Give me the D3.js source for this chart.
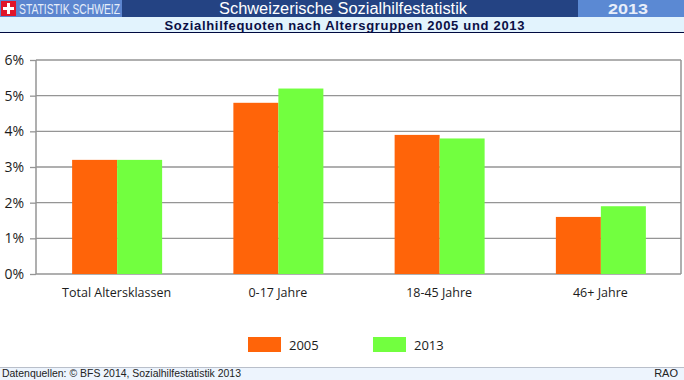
<!DOCTYPE html>
<html>
<head>
<meta charset="utf-8">
<script src="https://cdn.jsdelivr.net/npm/d3@7"></script>
<style>
  html, body { margin: 0; padding: 0; background: #fff; }
  svg { display: block; }
  .chart-text { font-family: "Open Sans", "Noto Sans", sans-serif; font-size: 12.5px; fill: #1c1c1c; }
  .head-text { font-family: "Liberation Sans", Arial, sans-serif; }
</style>
</head>
<body>
<div id="chart"></div>
<script>
var categories = ['Total Altersklassen', '0-17 Jahre', '18-45 Jahre', '46+ Jahre'];
var years = ['2005', '2013'];
var values2005 = [3.2, 4.8, 3.9, 1.6];
var values2013 = [3.2, 5.2, 3.8, 1.9];
var yTicks = [0, 1, 2, 3, 4, 5, 6];
var colors = ['#ff6409', '#72ff3f'];

var width = 684, height = 380;
var gridColor = '#959595';

var svg = d3.select('#chart').append('svg')
    .attr('width', width)
    .attr('height', height);

// header bands
svg.append('rect').attr('x', 0).attr('y', 0).attr('width', width).attr('height', 17).style('fill', '#244383');
svg.append('rect').attr('x', 0).attr('y', 0).attr('width', 122).attr('height', 17).style('fill', '#5b85cf');
svg.append('rect').attr('x', 578).attr('y', 0).attr('width', 106).attr('height', 17).style('fill', '#5b89d3');
svg.append('rect').attr('x', 0).attr('y', 17).attr('width', width).attr('height', 15).style('fill', '#e2f3fd');
svg.append('rect').attr('x', 0).attr('y', 32).attr('width', width).attr('height', 1).style('fill', '#000a40');

// swiss flag
svg.append('rect').attr('x', 1).attr('y', 1).attr('width', 15).attr('height', 15).style('fill', '#e0142a');
svg.append('rect').attr('x', 7).attr('y', 3).attr('width', 3).attr('height', 11).style('fill', '#fff');
svg.append('rect').attr('x', 3).attr('y', 7).attr('width', 11).attr('height', 3).style('fill', '#fff');

svg.append('text').attr('class', 'head-text')
    .attr('x', 19).attr('y', 14)
    .attr('textLength', 101).attr('lengthAdjust', 'spacingAndGlyphs')
    .style('font-size', '15px').style('fill', '#e6eefa')
    .text('STATISTIK SCHWEIZ');

svg.append('text').attr('class', 'head-text')
    .attr('x', 343).attr('y', 14).attr('text-anchor', 'middle')
    .attr('textLength', 248).attr('lengthAdjust', 'spacingAndGlyphs')
    .style('font-size', '16px').style('fill', '#fff')
    .text('Schweizerische Sozialhilfestatistik');

svg.append('text').attr('class', 'head-text')
    .attr('x', 628).attr('y', 14).attr('text-anchor', 'middle')
    .attr('textLength', 40).attr('lengthAdjust', 'spacingAndGlyphs')
    .style('font-size', '15px').style('font-weight', 'bold').style('fill', '#e8eefa')
    .text('2013');

svg.append('text').attr('class', 'head-text')
    .attr('x', 344.5).attr('y', 30).attr('text-anchor', 'middle')
    .attr('textLength', 360)
    .style('font-size', '13px').style('font-weight', 'bold').style('fill', '#0a0f45')
    .text('Sozialhilfequoten nach Altersgruppen 2005 und 2013');

// plot
var x = d3.scaleBand().domain(categories).range([36, 681]).paddingInner(0).paddingOuter(0);
var xInner = d3.scaleBand().domain(years).range([0, 90]);
var y = d3.scaleLinear().domain([0, 6]).range([274, 60]);

var yAxis = d3.axisLeft(y)
    .tickValues(yTicks)
    .tickSizeInner(6)
    .tickSizeOuter(0)
    .tickPadding(6)
    .tickFormat(function(d) { return d + '%'; });

svg.append('g').selectAll('line')
    .data(yTicks).enter().append('line')
    .attr('x1', x.range()[0]).attr('x2', x.range()[1])
    .attr('y1', function(d) { return y(d); })
    .attr('y2', function(d) { return y(d); })
    .style('stroke', gridColor)
    .style('stroke-width', 1.3);

// right and left frame
svg.append('line').attr('x1', 36).attr('x2', 36).attr('y1', 60).attr('y2', 274)
    .style('stroke', gridColor).style('stroke-width', 1.5);
svg.append('line').attr('x1', 681).attr('x2', 681).attr('y1', 60).attr('y2', 274)
    .style('stroke', gridColor).style('stroke-width', 1.5);

var rows = categories.map(function(c, i) {
    return {name: c, values: [values2005[i], values2013[i]]};
});

var groups = svg.selectAll('.bar-group')
    .data(rows).enter().append('g')
    .attr('class', 'bar-group')
    .attr('transform', function(d) {
        return 'translate(' + (x(d.name) + x.bandwidth() / 2 - 44.5) + ',0)';
    });

groups.selectAll('rect')
    .data(function(d) { return d.values; })
    .enter().append('rect')
    .attr('x', function(d, i) { return xInner(years[i]); })
    .attr('width', xInner.bandwidth())
    .attr('y', function(d) { return y(d); })
    .attr('height', function(d) { return y(0) - y(d); })
    .style('fill', function(d, i) { return colors[i]; });

var yG = svg.append('g')
    .attr('transform', 'translate(36,0)')
    .call(yAxis);
yG.select('.domain').remove();
yG.selectAll('line').style('stroke', gridColor).style('stroke-width', 1.3);
yG.selectAll('text').attr('class', 'chart-text').style('font-size', '14px').attr('dy', '0.32em');

svg.selectAll('.cat-label')
    .data(categories).enter().append('text')
    .attr('class', 'chart-text')
    .attr('x', function(d) { return x(d) + x.bandwidth() / 2; })
    .attr('y', 297)
    .attr('text-anchor', 'middle')
    .text(function(d) { return d; });

// legend
var legendX = d3.scaleOrdinal().domain(years).range([248, 373]);
years.forEach(function(yr, i) {
    svg.append('rect')
        .attr('x', legendX(yr)).attr('y', 337)
        .attr('width', 33).attr('height', 15)
        .style('fill', colors[i]);
    svg.append('text')
        .attr('class', 'chart-text')
        .attr('x', legendX(yr) + 41).attr('y', 349.5)
        .style('font-size', '13px')
        .text(yr);
});

// footer
svg.append('rect').attr('x', 0).attr('y', 367).attr('width', width).attr('height', 13).style('fill', '#edf4fd');
svg.append('rect').attr('x', 0).attr('y', 367).attr('width', width).attr('height', 1).style('fill', '#b9bfca');
svg.append('text').attr('class', 'head-text')
    .attr('x', 2).attr('y', 377)
    .attr('textLength', 239).attr('lengthAdjust', 'spacingAndGlyphs')
    .style('font-size', '11px').style('fill', '#222')
    .text('Datenquellen: © BFS 2014, Sozialhilfestatistik 2013');
svg.append('text').attr('class', 'head-text')
    .attr('x', 678).attr('y', 377).attr('text-anchor', 'end')
    .style('font-size', '11px').style('fill', '#222')
    .text('RAO');
</script>
</body>
</html>
